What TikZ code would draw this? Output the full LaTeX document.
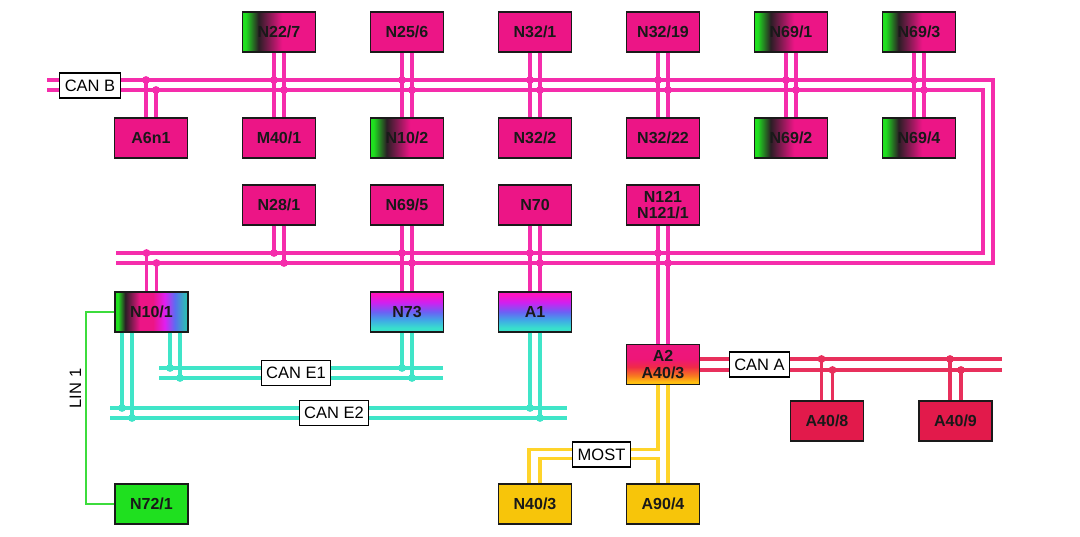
\documentclass[tikz,border=0pt]{standalone}
\usepackage{fontspec}
\setmainfont{Liberation Sans}
\usetikzlibrary{calc}
\definecolor{cPinkW}{HTML}{F52DAB}
\definecolor{cPinkF}{HTML}{EC1586}
\definecolor{cGreen}{HTML}{1FE01F}
\definecolor{cDark}{HTML}{2B1E25}
\definecolor{cLin}{HTML}{3CDC3C}
\definecolor{cTurq}{HTML}{3FE5C8}
\definecolor{cRed}{HTML}{E8305C}
\definecolor{cRedF}{HTML}{E21A4B}
\definecolor{cYel}{HTML}{FFD42A}
\definecolor{cYelF}{HTML}{F7C50A}
\definecolor{cBorder}{HTML}{1A1A1A}
\definecolor{cMag}{HTML}{E01EF0}
\definecolor{cBlue}{HTML}{5A6EF0}
\definecolor{cTeal}{HTML}{30B8B8}
\definecolor{vA}{HTML}{38E0CC}
\definecolor{vB}{HTML}{40A8E6}
\definecolor{vC}{HTML}{6A62F4}
\definecolor{vD}{HTML}{D020F0}
\definecolor{vE}{HTML}{FF14C0}
\definecolor{oA}{HTML}{FFC010}
\definecolor{oB}{HTML}{F87A20}
\definecolor{oC}{HTML}{F02A48}
\definecolor{oD}{HTML}{EE1678}
\pgfdeclarehorizontalshading{gpk}{100bp}{color(0bp)=(cGreen); color(25bp)=(cGreen); color(27bp)=(cGreen); color(36bp)=(cDark); color(52bp)=(cPinkF); color(100bp)=(cPinkF)}
\pgfdeclarehorizontalshading{rainb}{100bp}{color(0bp)=(cGreen); color(25bp)=(cGreen); color(27bp)=(cGreen); color(32bp)=(cDark); color(42bp)=(cPinkF); color(51bp)=(cPinkF); color(59bp)=(cMag); color(66bp)=(cBlue); color(73bp)=(cTeal); color(100bp)=(cTeal)}
\pgfdeclareverticalshading{mbc}{100bp}{color(0bp)=(vA); color(30bp)=(vA); color(40bp)=(vB); color(50bp)=(vC); color(62bp)=(vD); color(72bp)=(vE); color(100bp)=(vE)}
\pgfdeclareverticalshading{pro}{100bp}{color(0bp)=(oA); color(28bp)=(oA); color(36bp)=(oB); color(47bp)=(oC); color(57bp)=(oD); color(100bp)=(cPinkF)}
\begin{document}
\begin{tikzpicture}[x=1pt,y=-1pt,
  box/.style={draw=cBorder,line width=1.3pt,minimum width=73pt,minimum height=40pt,inner sep=0pt,align=center,font=\bfseries\fontsize{16}{16.5}\selectfont,text=black!90},
  pbox/.style={box,fill=cPinkF},
  gbox/.style={box,shading=gpk},
  rbox/.style={box,fill=cRedF},
  ybox/.style={box,fill=cYelF},
  lbl/.style={draw=black,fill=white,line width=1.3pt,minimum height=25pt,inner xsep=5pt,inner ysep=0pt,font=\fontsize{16.5}{17}\selectfont},
  wpink/.style={draw=cPinkW,line width=3.2pt},
  wturq/.style={draw=cTurq,line width=3.2pt},
  wred/.style={draw=cRed,line width=3.2pt},
  wyel/.style={draw=cYel,line width=3.2pt},
  wlin/.style={draw=cLin,line width=2.4pt}]
\fill[white] (0,0) rectangle (1080,536);
\path[use as bounding box] (0,0) rectangle (1080,536);
% boxes
\node[gbox] (n227) at (279,32) {N22/7};
\node[pbox] (n256) at (407,32) {N25/6};
\node[pbox] (n321) at (535,32) {N32/1};
\node[pbox] (n3219) at (663,32) {N32/19};
\node[gbox] (n691) at (791,32) {N69/1};
\node[gbox] (n693) at (919,32) {N69/3};
\node[pbox] (a6n1) at (151,138) {A6n1};
\node[pbox] (m401) at (279,138) {M40/1};
\node[gbox] (n102) at (407,138) {N10/2};
\node[pbox] (n322) at (535,138) {N32/2};
\node[pbox] (n3222) at (663,138) {N32/22};
\node[gbox] (n692) at (791,138) {N69/2};
\node[gbox] (n694) at (919,138) {N69/4};
\node[pbox] (n281) at (279,205) {N28/1};
\node[pbox] (n695) at (407,205) {N69/5};
\node[pbox] (n70) at (535,205) {N70};
\node[pbox] (n121) at (663,205) {N121\\N121/1};
\node[box,shading=rainb] (n101) at (151.5,312) {N10/1};
\node[box,shading=mbc] (n73) at (407,312) {N73};
\node[box,shading=mbc] (a1) at (535,312) {A1};
\node[box,shading=pro] (a2) at (663,364.5) {A2\\A40/3};
\node[rbox] (a408) at (827,421) {A40/8};
\node[rbox] (a409) at (955.5,421) {A40/9};
\node[box,fill=cGreen] (n721) at (151.5,504) {N72/1};
\node[ybox] (n403) at (535,504) {N40/3};
\node[ybox] (a904) at (663,504) {A90/4};
% bus coordinates
\coordinate (bB1) at (47,80);
\coordinate (bB2) at (47,90);
\coordinate (bC1) at (116,253);
\coordinate (bC2) at (116,263);
\coordinate (e1a) at (159,368); \coordinate (e1b) at (443,368);
\coordinate (e1c) at (159,378); \coordinate (e1d) at (443,378);
\coordinate (e2a) at (110,408); \coordinate (e2b) at (567,408);
\coordinate (e2c) at (110,418); \coordinate (e2d) at (567,418);
\coordinate (caE1) at (1002,359);
\coordinate (caE2) at (1002,370);
% CAN B ring
\draw[wpink] (bB1) -- (993,80) -- (993,263) -- (bC2);
\draw[wpink] (bB2) -- (983,90) -- (983,253) -- (bC1);
\foreach \t/\b in {n227/m401,n256/n102,n321/n322,n3219/n3222,n691/n692,n693/n694}{
  \draw[wpink] ($(\t.south)+(-5,0)$) -- ($(\b.north)+(-5,0)$);
  \draw[wpink] ($(\t.south)+(5,0)$) -- ($(\b.north)+(5,0)$);
  \fill[cPinkW] ($(\t.south |- bB1)+(-5,0)$) circle[radius=3.9pt];
  \fill[cPinkW] ($(\t.south |- bB2)+(5,0)$) circle[radius=3.9pt];
}
\draw[wpink] ($(a6n1.north |- bB1)+(-5,0)$) -- ($(a6n1.north)+(-5,0)$);
\draw[wpink] ($(a6n1.north |- bB2)+(5,0)$) -- ($(a6n1.north)+(5,0)$);
\fill[cPinkW] ($(a6n1.north |- bB1)+(-5,0)$) circle[radius=3.9pt];
\fill[cPinkW] ($(a6n1.north |- bB2)+(5,0)$) circle[radius=3.9pt];
\foreach \t/\b in {n695/n73,n70/a1,n121/a2}{
  \draw[wpink] ($(\t.south)+(-5,0)$) -- ($(\b.north)+(-5,0)$);
  \draw[wpink] ($(\t.south)+(5,0)$) -- ($(\b.north)+(5,0)$);
  \fill[cPinkW] ($(\t.south |- bC1)+(-5,0)$) circle[radius=3.9pt];
  \fill[cPinkW] ($(\t.south |- bC2)+(5,0)$) circle[radius=3.9pt];
}
\draw[wpink] ($(n281.south)+(-5,0)$) -- ($(n281.south |- bC1)+(-5,0)$);
\draw[wpink] ($(n281.south)+(5,0)$) -- ($(n281.south |- bC2)+(5,0)$);
\fill[cPinkW] ($(n281.south |- bC1)+(-5,0)$) circle[radius=3.9pt];
\fill[cPinkW] ($(n281.south |- bC2)+(5,0)$) circle[radius=3.9pt];
\draw[wpink] ($(n101.north)+(-5,0)$) -- ($(n101.north |- bC1)+(-5,0)$);
\draw[wpink] ($(n101.north)+(5,0)$) -- ($(n101.north |- bC2)+(5,0)$);
\fill[cPinkW] ($(n101.north |- bC1)+(-5,0)$) circle[radius=3.9pt];
\fill[cPinkW] ($(n101.north |- bC2)+(5,0)$) circle[radius=3.9pt];
% CAN E1
\draw[wturq] (e1a) -- (e1b);
\draw[wturq] (e1c) -- (e1d);
\draw[wturq] ($(n101.south)+(18.5,0)$) -- ($(n101.south |- e1a)+(18.5,0)$);
\draw[wturq] ($(n101.south)+(28.5,0)$) -- ($(n101.south |- e1c)+(28.5,0)$);
\fill[cTurq] ($(n101.south |- e1a)+(18.5,0)$) circle[radius=3.9pt];
\fill[cTurq] ($(n101.south |- e1c)+(28.5,0)$) circle[radius=3.9pt];
\draw[wturq] ($(n73.south)+(-5,0)$) -- ($(n73.south |- e1a)+(-5,0)$);
\draw[wturq] ($(n73.south)+(5,0)$) -- ($(n73.south |- e1c)+(5,0)$);
\fill[cTurq] ($(n73.south |- e1a)+(-5,0)$) circle[radius=3.9pt];
\fill[cTurq] ($(n73.south |- e1c)+(5,0)$) circle[radius=3.9pt];
% CAN E2
\draw[wturq] (e2a) -- (e2b);
\draw[wturq] (e2c) -- (e2d);
\draw[wturq] ($(n101.south)+(-29.5,0)$) -- ($(n101.south |- e2a)+(-29.5,0)$);
\draw[wturq] ($(n101.south)+(-19.5,0)$) -- ($(n101.south |- e2c)+(-19.5,0)$);
\fill[cTurq] ($(n101.south |- e2a)+(-29.5,0)$) circle[radius=3.9pt];
\fill[cTurq] ($(n101.south |- e2c)+(-19.5,0)$) circle[radius=3.9pt];
\draw[wturq] ($(a1.south)+(-5,0)$) -- ($(a1.south |- e2a)+(-5,0)$);
\draw[wturq] ($(a1.south)+(5,0)$) -- ($(a1.south |- e2c)+(5,0)$);
\fill[cTurq] ($(a1.south |- e2a)+(-5,0)$) circle[radius=3.9pt];
\fill[cTurq] ($(a1.south |- e2c)+(5,0)$) circle[radius=3.9pt];
% CAN A
\draw[wred] ($(a2.east)+(0,-5.5)$) -- (caE1);
\draw[wred] ($(a2.east)+(0,5.5)$) -- (caE2);
\foreach \b in {a408,a409}{
  \draw[wred] ($(\b.north |- caE1)+(-5.5,0)$) -- ($(\b.north)+(-5.5,0)$);
  \draw[wred] ($(\b.north |- caE2)+(5.5,0)$) -- ($(\b.north)+(5.5,0)$);
  \fill[cRed] ($(\b.north |- caE1)+(-5.5,0)$) circle[radius=3.9pt];
  \fill[cRed] ($(\b.north |- caE2)+(5.5,0)$) circle[radius=3.9pt];
}
% MOST
\draw[wyel] ($(a2.south)+(-5,0)$) |- ($(n403.north)+(-6,-34)$) -- ($(n403.north)+(-6,0)$);
\draw[wyel] ($(n403.north)+(5,0)$) |- ($(a904.north)+(-5,-25)$) -- ($(a904.north)+(-5,0)$);
\draw[wyel] ($(a2.south)+(5,0)$) -- ($(a904.north)+(5,0)$);
% LIN 1
\coordinate (linx) at (86,400);
\draw[wlin] (n101.west) -| (linx) |- (n721.west);
% labels
\node[lbl] (lcanb) at (90,85.5) {CAN B};
\node[lbl] (lcane1) at (296,373) {CAN E1};
\node[lbl] (lcane2) at (334,413) {CAN E2};
\node[lbl] (lcana) at (759.5,364.5) {CAN A};
\node[lbl] (lmost) at (601.5,454.5) {MOST};
\node[rotate=90,font=\fontsize{16.5}{17}\selectfont] (llin) at (75.5,388.5) {LIN 1};
\end{tikzpicture}
\end{document}
